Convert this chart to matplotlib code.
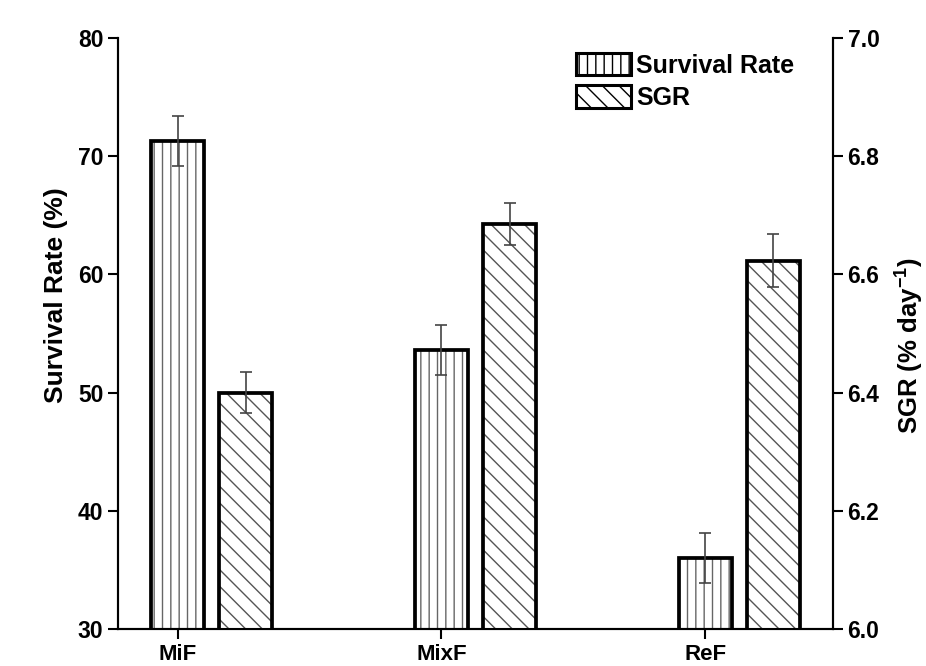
import numpy as np
import matplotlib
matplotlib.use("Agg")
import matplotlib.pyplot as plt
from matplotlib.patches import Patch

plt.rcParams["font.family"] = ["Liberation Sans", "DejaVu Sans"]
plt.rcParams["font.weight"] = "bold"
plt.rcParams["mathtext.fontset"] = "custom"
plt.rcParams["mathtext.rm"] = "Liberation Sans:bold"
plt.rcParams["mathtext.bf"] = "Liberation Sans:bold"
plt.rcParams["hatch.linewidth"] = 1.0

# Feed groups
groups = ["MiF", "MixF", "ReF"]

# Survival rate (%) with error
survival = [71.3, 53.6, 36.0]
survival_err = [2.1, 2.1, 2.1]

# Specific growth rate (% day-1) with error
sgr = [6.40, 6.685, 6.623]
sgr_err = [0.035, 0.035, 0.045]

x = np.arange(len(groups))
width = 0.2
offset = 0.258

fig = plt.figure(figsize=(9.26, 6.66), dpi=100)
ax = fig.add_axes([0.1274, 0.0556, 0.7722, 0.8874])
ax2 = ax.twinx()

# hatched fill first, heavy black outline on top
ax.bar(x, survival, width, bottom=0, color="white", edgecolor="#666666",
       hatch="||", linewidth=0, zorder=2)
ax.bar(x, survival, width, fill=False, edgecolor="black", linewidth=2.7, zorder=3)
ax.errorbar(x, survival, yerr=survival_err, fmt="none", ecolor="#444444",
            elinewidth=1.2, capsize=4.5, capthick=1.2, zorder=4)

ax2.bar(x + offset, sgr, width, color="white", edgecolor="#555555",
        hatch="\\\\", linewidth=0, zorder=2)
ax2.bar(x + offset, sgr, width, fill=False, edgecolor="black", linewidth=2.7, zorder=3)
ax2.errorbar(x + offset, sgr, yerr=sgr_err, fmt="none", ecolor="#444444",
             elinewidth=1.2, capsize=4.5, capthick=1.2, zorder=4)

ax.set_xlim(-0.227, 2.485)
ax.set_ylim(30, 80)
ax2.set_ylim(6.0, 7.0)
ax.set_yticks([30, 40, 50, 60, 70, 80])
ax2.set_yticks([6.0, 6.2, 6.4, 6.6, 6.8, 7.0])
ax2.set_yticklabels(["6.0", "6.2", "6.4", "6.6", "6.8", "7.0"])
ax.set_xticks(x)
ax.set_xticklabels(groups)

for a in (ax, ax2):
    a.spines["top"].set_visible(False)
    for s in a.spines.values():
        s.set_linewidth(1.5)
    a.tick_params(axis="both", direction="out", length=7, width=1.5,
                  labelsize=16.5)
ax.tick_params(axis="x", pad=4, labelsize=16)

ax.set_ylabel("Survival Rate (%)", fontsize=19, fontweight="bold")
ax.yaxis.set_label_coords(-0.07, 0.565)
ax2.set_ylabel(r"SGR (% day$^{-1}$)", fontsize=18.5, fontweight="bold")
ax2.yaxis.set_label_coords(1.082, 0.48)

handles = [
    Patch(facecolor="white", edgecolor="black", hatch="||", linewidth=2.2),
    Patch(facecolor="white", edgecolor="black", hatch="\\\\", linewidth=2.2),
]
ax2.legend(handles, ["Survival Rate", "SGR"], loc="upper left",
           bbox_to_anchor=(0.62, 1.0), frameon=False, fontsize=18,
           handlelength=2.2, handleheight=1.0, handletextpad=0.2,
           labelspacing=0.3, borderaxespad=0.2)

fig.savefig("out.png", dpi=100)
